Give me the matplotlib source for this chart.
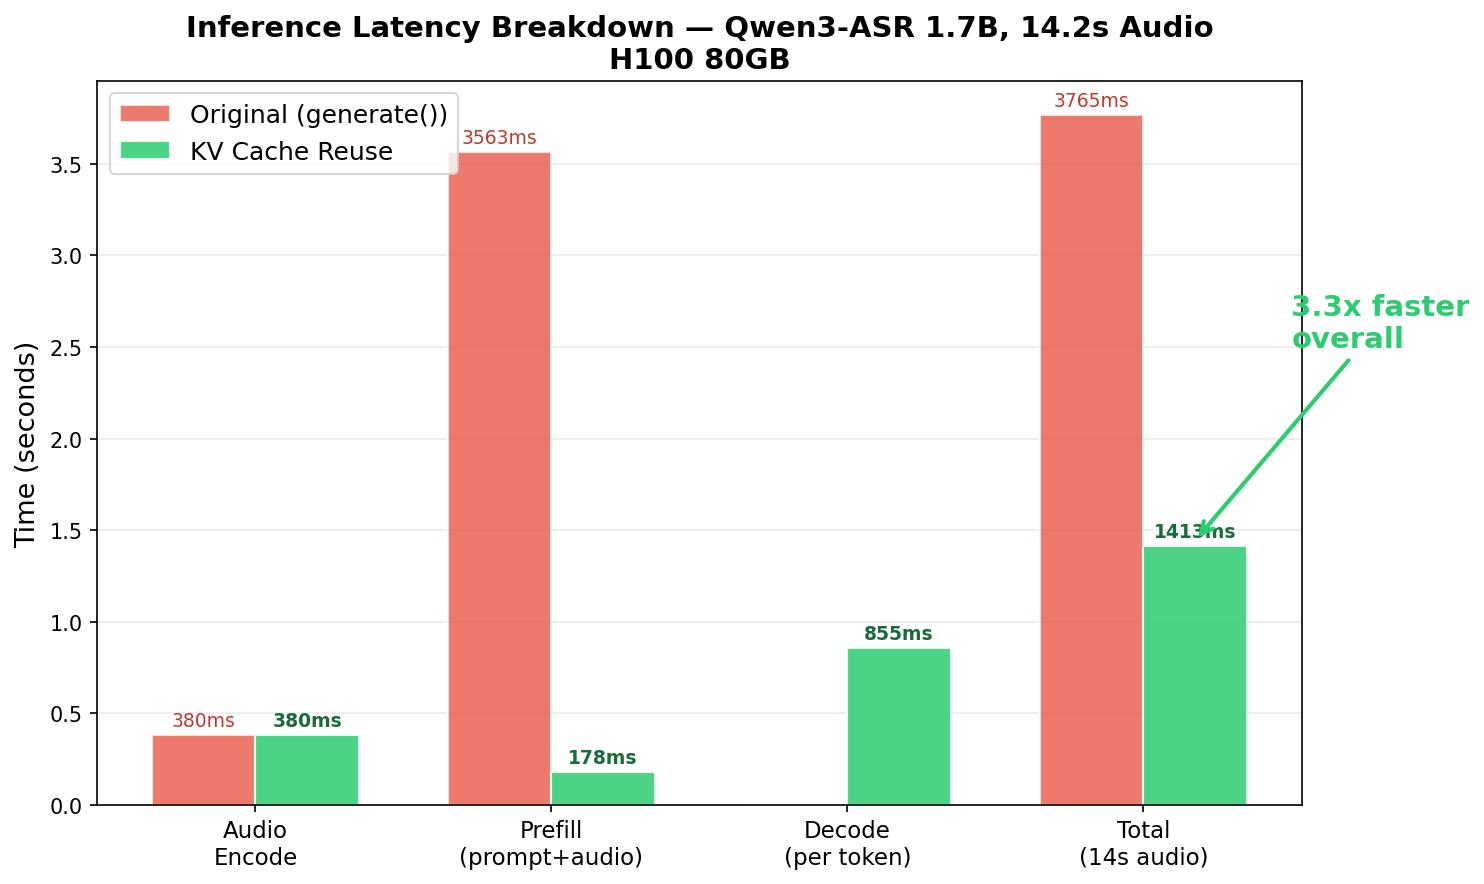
import numpy as np
import matplotlib.pyplot as plt

categories = ['Audio\nEncode', 'Prefill\n(prompt+audio)', 'Decode\n(per token)', 'Total\n(14s audio)']
original_ms = [380, 3563, 0, 3765]
kv_reuse_ms = [380, 178, 855, 1413]
speedup_text = '3.3x faster\noverall'

red = '#e74c3c'
green = '#2ecc71'

x = np.arange(len(categories))
width = 0.35

fig, ax = plt.subplots(figsize=(10, 6), dpi=150)

orig_s = np.array(original_ms) / 1000
kv_s = np.array(kv_reuse_ms) / 1000

ax.bar(x - width/2, orig_s, width, label='Original (generate())', color=red, alpha=0.75, edgecolor='white')
ax.bar(x + width/2, kv_s, width, label='KV Cache Reuse', color=green, alpha=0.85, edgecolor='white')

# value labels
for xi, v in zip(x - width/2, original_ms):
    if v > 0:
        ax.text(xi, v/1000 + 0.03, f'{v}ms', ha='center', va='bottom', fontsize=9, color='#c0392b')
for xi, v in zip(x + width/2, kv_reuse_ms):
    if v > 0:
        ax.text(xi, v/1000 + 0.03, f'{v}ms', ha='center', va='bottom', fontsize=9, color='#1a6b3c', fontweight='bold')

ax.annotate(speedup_text, xy=(3 + width/2, kv_s[-1] + 0.03), xytext=(3.5, 2.5),
            fontsize=14, fontweight='bold', color=green,
            arrowprops=dict(arrowstyle='->', color=green, lw=2))

ax.set_xticks(x)
ax.set_xticklabels(categories, fontsize=11)
ax.tick_params(axis='y', labelsize=10)
ax.set_ylabel('Time (seconds)', fontsize=13)
ax.set_title('Inference Latency Breakdown — Qwen3-ASR 1.7B, 14.2s Audio\nH100 80GB', fontsize=14, fontweight='bold')
ax.legend(fontsize=12, loc='upper left')
ax.grid(axis='y', alpha=0.25)
ax.set_axisbelow(True)

plt.tight_layout()
plt.savefig('out.png', dpi=150, bbox_inches='tight')
